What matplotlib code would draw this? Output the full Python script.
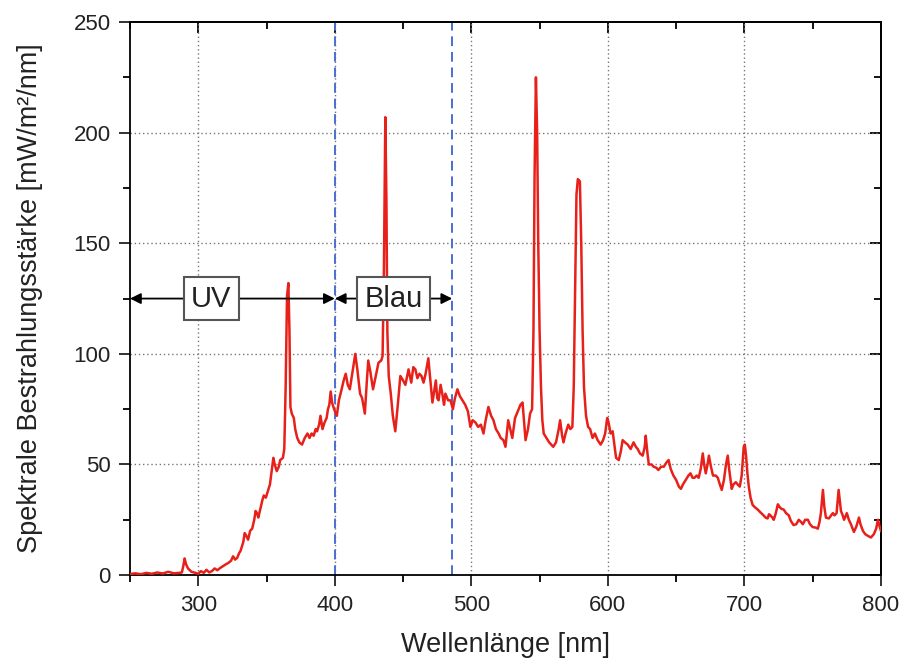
import numpy as np
import matplotlib
matplotlib.use("Agg")
import matplotlib.pyplot as plt

plt.rcParams['font.family'] = ['Liberation Sans', 'DejaVu Sans']

# spectrum (wavelength in nm, irradiance in mW/m^2/nm)
wavelength = [
    250, 254, 258, 262, 266, 270, 274, 278, 282, 286, 288, 289, 290, 291, 292.5, 295, 298, 300,
    302, 304, 306, 308, 310, 312, 314, 316, 318, 320, 322, 324, 325.5, 327, 328.5, 330, 331, 333,
    334, 335, 336.5, 338, 339.5, 341, 342, 343, 344, 345.5, 347, 348, 349.5, 351, 352.5, 354, 355,
    356, 357.5, 359, 360, 362, 363, 364, 365, 366, 366.8, 367.5, 368.5, 370, 371, 372.5, 374, 376,
    378, 380, 381.5, 383, 384.5, 386, 387, 388.5, 389.5, 391, 392.5, 394, 395, 396, 397, 398,
    399.5, 401.5, 403, 405, 406.5, 408, 409.5, 411, 413, 415, 416.5, 418.5, 420, 422, 423.5, 424.5,
    426, 428, 430, 432, 434, 435, 436, 437, 437.8, 438.5, 439.5, 441, 442.5, 444.3, 446, 448, 450,
    451.7, 453, 454, 456, 457.5, 459, 460.5, 462, 463.5, 465, 466.5, 468.5, 470, 471.5, 473, 474,
    475, 476, 477.5, 479, 480, 481, 483, 484.7, 486.5, 488, 489.8, 491.5, 493.5, 495.5, 497.5,
    499.3, 501, 503, 505, 507, 508.9, 510.5, 512.5, 514.5, 516.2, 518, 520, 521.5, 523.5, 525, 527,
    528.5, 530, 532, 534, 536, 537.5, 539.7, 541.5, 543, 544.5, 545.5, 546.3, 547.3, 548.2, 549,
    550, 551, 552, 553, 555, 557, 558.5, 560, 562, 564, 565, 566.5, 567.5, 569, 571, 572.5, 574,
    575, 576, 577, 578, 579.5, 580.5, 581.5, 582.5, 584, 585.5, 587, 588.8, 590.5, 592.5, 594.7,
    596.5, 598, 599.5, 600.5, 602, 603.5, 605, 606, 608, 609.5, 610.8, 612.5, 614.5, 616.7, 618.8,
    620.5, 621.8, 623.5, 625.5, 627, 627.7, 629, 630, 632, 633.5, 635.5, 637, 639, 641, 643, 644.5,
    646, 648, 650, 652, 653.5, 655, 657, 659, 660.5, 662, 663.5, 665, 666.5, 668, 669.5, 670.5,
    671.7, 673, 674, 675.5, 677, 679, 680.5, 682, 683.4, 685, 686.5, 687.8, 689, 690.7, 692, 693.7,
    695, 696.6, 698, 699.5, 700.3, 701.2, 702.2, 703.2, 704.5, 706, 708, 709.8, 711.5, 714, 715.5,
    717, 718, 719, 720.5, 721.5, 723, 724.5, 725.5, 727, 728.8, 730.5, 732.5, 734, 736, 738, 739.8,
    741.5, 742.8, 744.5, 746.5, 748, 750, 752, 753.8, 755, 756, 757.5, 758.5, 759.7, 761.9, 763.5,
    764.8, 766, 767.5, 769, 770.7, 772, 773, 775, 776.5, 778, 780.2, 782, 783.9, 785, 786.8, 788.5,
    790.5, 792.7, 794.8, 796.5, 797.8, 799, 800,
]
irradiance = [
    0.5, 0.8, 0.4, 1.0, 0.6, 1.2, 0.7, 1.5, 0.8, 1.0, 1.2, 4.0, 7.5, 5.0, 3.0, 1.5, 1.0, 0.6,
    1.8, 1.0, 2.4, 1.2, 1.8, 3.0, 2.2, 3.2, 4.0, 4.8, 5.5, 6.5, 8.5, 7.0, 7.8, 10, 11, 15,
    19, 18, 16, 20, 21, 25, 29, 28, 26, 30, 34, 36, 35, 38, 41, 48, 53,
    50, 47, 49, 52, 53, 57, 85, 126, 132, 110, 76, 73, 71, 66, 62, 60, 59,
    62, 64, 62, 64, 63, 66, 65, 68, 72, 66, 69, 71, 75, 77, 83, 78,
    75, 72, 79, 84, 88, 91, 86, 84, 92, 100, 93, 82, 80, 73, 88, 97,
    92, 84, 90, 96, 97, 99, 140, 207, 170, 110, 90, 82, 72, 65, 76, 90, 88,
    86, 90, 93, 87, 94, 93, 89, 91, 90, 87, 91, 98, 88, 78, 84, 88,
    80, 79, 86, 81, 77, 82, 79, 79, 75, 80, 84, 81, 79, 77, 74,
    67, 70, 69, 67, 68, 64, 70, 76, 72, 70, 66, 64, 62, 61, 58, 70,
    66, 62, 71, 74, 77, 78, 61, 66, 73, 75, 110, 180, 225, 200, 150,
    110, 85, 70, 64, 62, 60, 59, 58, 60, 66, 70, 63, 60, 64, 68, 66, 67,
    85, 130, 172, 179, 178, 150, 110, 85, 72, 67, 66, 62, 64, 61, 59,
    61, 64, 71, 69, 64, 65, 58, 53, 52, 56, 61, 60, 59, 57, 60,
    58, 57, 55, 54, 58, 63, 55, 50, 50, 49, 48.5, 47.5, 49, 49, 51, 52,
    48, 45, 43, 40, 39, 41, 43, 45, 46, 44, 44, 45, 44, 48, 55, 50,
    46, 50, 54, 49, 45, 45, 44, 41, 38.5, 43, 50, 54, 47, 39, 41, 42,
    41, 40, 45, 58, 59, 54, 46, 40, 35, 31.7, 30.5, 29.6, 28.5, 27, 26,
    25.6, 27.5, 27, 26, 25, 28, 32, 31, 30, 29.6, 28, 27, 24.5, 22.6, 23, 25,
    24, 23, 25, 25, 23, 21.7, 21.5, 21, 24, 28, 38.5, 31, 26, 25.6, 27,
    28, 27, 28, 38.5, 29, 27, 25, 28, 25, 23, 19.5, 22, 26, 23, 20, 18.5,
    17.7, 17, 18.5, 21, 25, 22, 20,
]

region_bounds = [400, 486]          # blue dashed lines
uv_range = [250, 400]
blue_range = [400, 486]
arrow_level = 125
x_major = [300, 400, 500, 600, 700, 800]
y_major = [0, 50, 100, 150, 200, 250]

fig = plt.figure(figsize=(9.04, 6.58), dpi=100)
ax = fig.add_axes([0.1438, 0.126, 0.8307, 0.8405])

# grid first so everything sits on top of it
for xv in x_major[:-1]:
    ax.axvline(xv, color='#777777', linestyle=(0, (1, 2)), linewidth=1.0, zorder=1)
for yv in y_major[1:-1]:
    ax.axhline(yv, color='#777777', linestyle=(0, (1, 2)), linewidth=1.0, zorder=1)

for xv in region_bounds:
    ax.axvline(xv, color='#4a6fd0', linestyle=(0, (5, 3)), linewidth=1.4, zorder=2)

ax.plot(wavelength, irradiance, color='#e8201a', linewidth=1.8, zorder=4)

# range arrows with labelled boxes
arrow_kw = dict(arrowstyle='-|>', color='black', lw=1.3, mutation_scale=16,
                shrinkA=0, shrinkB=0)
uv_mid = 309.5
blue_mid = 443
ax.annotate('', xy=(uv_range[0], arrow_level), xytext=(uv_mid, arrow_level),
            arrowprops=arrow_kw, zorder=5)
ax.annotate('', xy=(uv_range[1], arrow_level), xytext=(uv_mid, arrow_level),
            arrowprops=arrow_kw, zorder=5)
ax.annotate('', xy=(blue_range[0], arrow_level), xytext=(blue_mid, arrow_level),
            arrowprops=arrow_kw, zorder=5)
ax.annotate('', xy=(blue_range[1], arrow_level), xytext=(blue_mid, arrow_level),
            arrowprops=arrow_kw, zorder=5)

box_kw = dict(boxstyle='square,pad=0.25', facecolor='white', edgecolor='#555555', linewidth=1.5)
ax.text(uv_mid, arrow_level, 'UV', fontsize=21, ha='center', va='center',
        color='#222222', bbox=box_kw, zorder=6)
ax.text(blue_mid, arrow_level, 'Blau', fontsize=21, ha='center', va='center',
        color='#222222', bbox=box_kw, zorder=6)

ax.set_xlim(250, 800)
ax.set_ylim(0, 250)
ax.set_xticks(x_major)
ax.set_yticks(y_major)
ax.set_xticks(np.arange(250, 801, 50), minor=True)
ax.set_yticks(np.arange(0, 251, 25), minor=True)
ax.tick_params(which='major', direction='out', length=8, width=1.3, labelsize=16,
               colors='#222222', pad=6)
ax.tick_params(which='minor', direction='out', length=5, width=1.3)

# inward ticks on the top and right axes
top = ax.secondary_xaxis('top')
top.set_xticks(x_major)
top.set_xticks(np.arange(250, 801, 50), minor=True)
top.tick_params(which='major', direction='in', length=8, width=1.3, labeltop=False)
top.tick_params(which='minor', direction='in', length=5, width=1.3)
right = ax.secondary_yaxis('right')
right.set_yticks(y_major)
right.set_yticks(np.arange(0, 251, 25), minor=True)
right.tick_params(which='major', direction='in', length=8, width=1.3, labelright=False)
right.tick_params(which='minor', direction='in', length=5, width=1.3)

for sp in ax.spines.values():
    sp.set_linewidth(1.3)
top.spines['top'].set_linewidth(1.3)
right.spines['right'].set_linewidth(1.3)

ax.set_xlabel('Wellenlänge [nm]', fontsize=19.5, color='#222222', labelpad=12)
ax.set_ylabel('Spektrale Bestrahlungsstärke [mW/m²/nm]', fontsize=19.5,
              color='#222222', labelpad=22)

fig.savefig('out.png', dpi=100)
